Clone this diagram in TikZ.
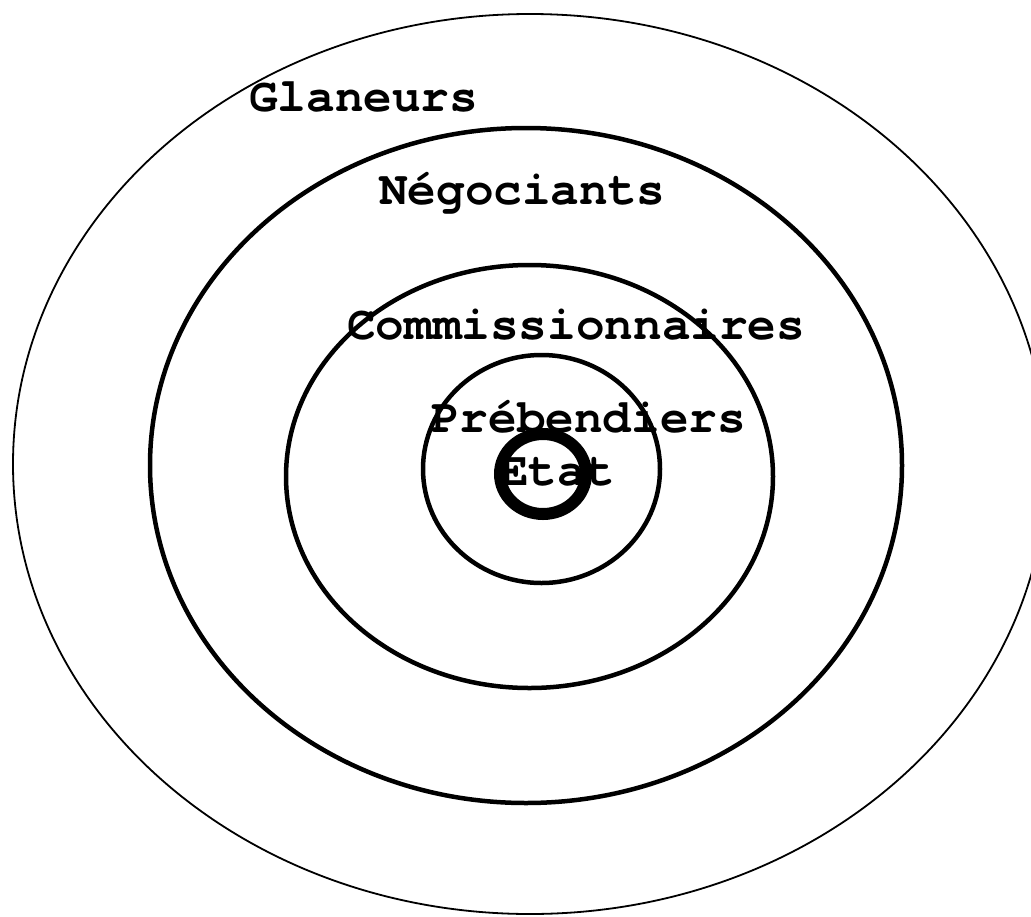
\documentclass[tikz,border=0pt]{standalone}
\usepackage{fontspec}
\setmonofont{TeX Gyre Cursor}
\begin{document}
\begin{tikzpicture}[x=1pt,y=-1pt,
  ring/.style={draw=black,line width=#1},
  lab/.style={anchor=base west,inner sep=0pt,font=\fontsize{47.7}{50}\selectfont\ttfamily\bfseries}]
\useasboundingbox (0,0) rectangle (1031,916);
\clip (0,0) rectangle (1031,916);
\fill[white] (0,0) rectangle (1031,916);
\draw[ring=1.8pt] (530,464) ellipse [x radius=517, y radius=450];
\draw[ring=4.5pt] (526,465.5) ellipse [x radius=376, y radius=337.5];
\draw[ring=4.5pt] (529.5,476.5) ellipse [x radius=243.5, y radius=211.5];
\draw[ring=4.5pt] (541.5,469) ellipse [x radius=118.5, y radius=114];
\draw[ring=12pt] (543,474) ellipse [x radius=43, y radius=40];
\node[lab] (glaneurs) at (249,111) {Glaneurs};
\node[lab] (negociants) at (379,204) {Négociants};
\node[lab] (commiss) at (347,339) {Commissionnaires};
\node[lab] (prebend) at (431,432) {Prébendiers};
\node[lab] (etat) at (500,485) {Etat};
\end{tikzpicture}
\end{document}
